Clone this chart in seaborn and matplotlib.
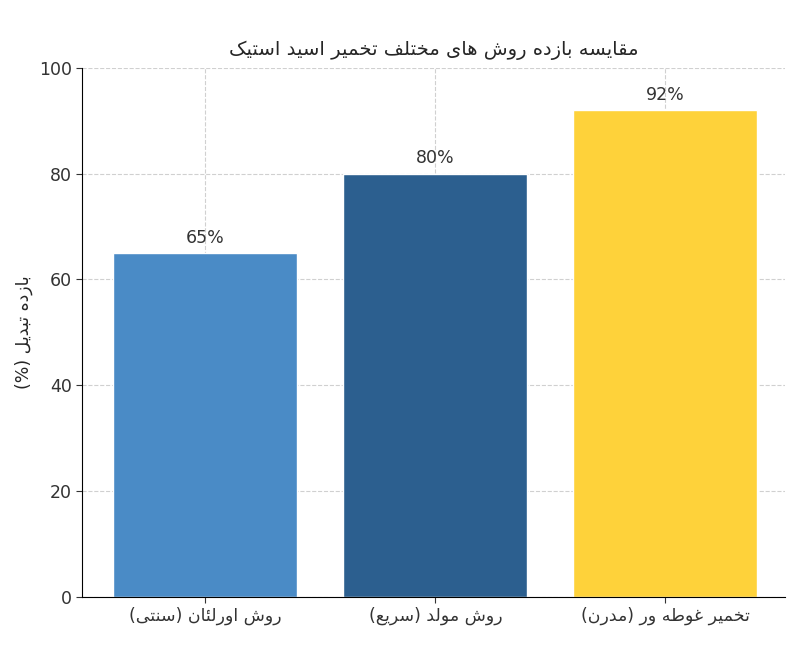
import matplotlib
matplotlib.use("Agg")
import matplotlib.pyplot as plt
import seaborn as sns
import pandas as pd

title = "مقایسه بازده روش های مختلف تخمیر اسید استیک"
ylabel = "بازده تبدیل (%)"
methods = ["روش اورلئان (سنتی)", "روش مولد (سریع)", "تخمیر غوطه ور (مدرن)"]
efficiency = [65, 80, 92]
colors = ["#4a8bc6", "#2c5f8f", "#fed23a"]

# isolated, final, initial, medial presentation forms
FORMS = {
    "ا": ("\uFE8D", "\uFE8E", None, None), "د": ("\uFEA9", "\uFEAA", None, None),
    "ر": ("\uFEAD", "\uFEAE", None, None), "ز": ("\uFEAF", "\uFEB0", None, None),
    "و": ("\uFEED", "\uFEEE", None, None),
    "ب": ("\uFE8F", "\uFE90", "\uFE91", "\uFE92"), "ت": ("\uFE95", "\uFE96", "\uFE97", "\uFE98"),
    "خ": ("\uFEA5", "\uFEA6", "\uFEA7", "\uFEA8"), "س": ("\uFEB1", "\uFEB2", "\uFEB3", "\uFEB4"),
    "ش": ("\uFEB5", "\uFEB6", "\uFEB7", "\uFEB8"), "ط": ("\uFEC1", "\uFEC2", "\uFEC3", "\uFEC4"),
    "ع": ("\uFEC9", "\uFECA", "\uFECB", "\uFECC"), "غ": ("\uFECD", "\uFECE", "\uFECF", "\uFED0"),
    "ف": ("\uFED1", "\uFED2", "\uFED3", "\uFED4"), "ق": ("\uFED5", "\uFED6", "\uFED7", "\uFED8"),
    "ک": ("\uFB8E", "\uFB8F", "\uFB90", "\uFB91"), "ل": ("\uFEDD", "\uFEDE", "\uFEDF", "\uFEE0"),
    "م": ("\uFEE1", "\uFEE2", "\uFEE3", "\uFEE4"), "ن": ("\uFEE5", "\uFEE6", "\uFEE7", "\uFEE8"),
    "ه": ("\uFEE9", "\uFEEA", "\uFEEB", "\uFEEC"), "ی": ("\uFBFC", "\uFBFD", "\uFBFE", "\uFBFF"),
    "ئ": ("\uFE89", "\uFE8A", "\uFE8B", "\uFE8C"),
}
MIRROR = {"(": ")", ")": "("}


def fa(s):
    out = []
    for i, c in enumerate(s):
        if c not in FORMS:
            out.append(MIRROR.get(c, c))
            continue
        prev = s[i - 1] if i > 0 else ""
        nxt = s[i + 1] if i + 1 < len(s) else ""
        join_prev = prev in FORMS and FORMS[prev][2] is not None
        join_next = nxt in FORMS and FORMS[c][2] is not None
        iso, fin, ini, med = FORMS[c]
        if join_prev and join_next:
            out.append(med)
        elif join_prev:
            out.append(fin)
        elif join_next:
            out.append(ini)
        else:
            out.append(iso)
    return "".join(reversed(out))


sns.set_style("whitegrid", {"grid.linestyle": "--", "grid.color": "#d0d0d0",
                            "axes.edgecolor": "black"})
plt.rcParams["font.family"] = ["DejaVu Sans"]

df = pd.DataFrame({"method": [fa(m) for m in methods], "eff": efficiency})

fig, ax = plt.subplots(figsize=(8, 6.66), dpi=100)
sns.barplot(data=df, x="method", y="eff", hue="method", palette=colors,
            legend=False, width=0.8, saturation=1, ax=ax)
for p, v in zip(ax.patches, efficiency):
    ax.text(p.get_x() + p.get_width() / 2, v + 1.2, f"{v}%", ha="center",
            va="bottom", fontsize=12.5, color="#333333")
ax.set_ylim(0, 100)
ax.set_xlim(-0.535, 2.52)
ax.set_title(fa(title), fontsize=14, pad=9)
ax.set_ylabel(fa(ylabel), fontsize=12.5)
ax.set_xlabel("")
ax.tick_params(axis="both", labelsize=12.5, colors="#333333", length=4, left=True, bottom=True)
ax.grid(True, axis="both")
for s in ["top", "right"]:
    ax.spines[s].set_visible(False)
plt.subplots_adjust(left=0.103, right=0.981, top=0.898, bottom=0.104)
fig.savefig("out.png", dpi=100)
